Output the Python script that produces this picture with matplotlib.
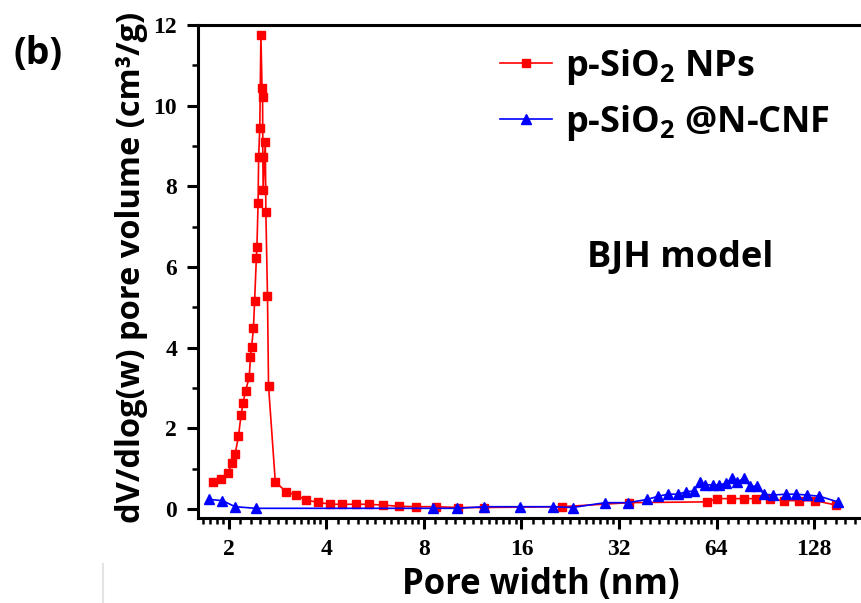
import numpy as np
import matplotlib
matplotlib.use('Agg')
import matplotlib.pyplot as plt
from matplotlib.ticker import FixedLocator, FixedFormatter, NullFormatter
from matplotlib.lines import Line2D

plt.rcParams['mathtext.fontset'] = 'custom'
plt.rcParams['mathtext.rm'] = 'Open Sans:bold'
plt.rcParams['mathtext.bf'] = 'Open Sans:bold'

# Data
w_np = [1.78, 1.89, 1.99, 2.04, 2.09, 2.14, 2.18, 2.21, 2.25, 2.31, 2.33, 2.35, 2.38,
        2.40, 2.43, 2.44, 2.46, 2.47, 2.49, 2.51, 2.53, 2.54, 2.545, 2.55, 2.59, 2.60,
        2.63, 2.65, 2.78, 3.00, 3.22, 3.47, 3.77, 4.10, 4.46, 4.92, 5.40, 5.97, 6.69,
        7.56, 8.71, 10.2, 12.3, 21.3, 34.4, 59.7, 64.4, 70.8, 77.8, 84.7, 93.6, 103.4,
        114.8, 128.9, 149.7]
v_np = [0.68, 0.74, 0.90, 1.15, 1.36, 1.81, 2.33, 2.62, 2.93, 3.27, 3.76, 4.02, 4.48,
        5.15, 6.22, 6.50, 7.58, 8.74, 9.45, 11.75, 10.43, 10.22, 8.74, 7.91, 9.11, 7.37,
        5.29, 3.05, 0.68, 0.43, 0.35, 0.22, 0.17, 0.12, 0.12, 0.12, 0.12, 0.10, 0.07,
        0.06, 0.06, 0.04, 0.04, 0.06, 0.16, 0.18, 0.26, 0.26, 0.26, 0.26, 0.24, 0.21,
        0.21, 0.21, 0.10]

w_cnf = [1.74, 1.91, 2.09, 2.42, 8.55, 10.1, 12.3, 15.8, 20.0, 23.0, 29.0, 34.2, 39.1,
         42.3, 45.4, 48.8, 51.5, 54.5, 56.9, 59.0, 62.6, 65.3, 68.4, 71.3, 74.2, 77.8,
         81.2, 85.5, 89.7, 95.8, 104.9, 112.6, 121.5, 132.9, 151.5]
v_cnf = [0.24, 0.21, 0.06, 0.02, 0.02, 0.02, 0.06, 0.06, 0.06, 0.04, 0.16, 0.16, 0.24,
         0.32, 0.37, 0.37, 0.43, 0.45, 0.68, 0.60, 0.60, 0.60, 0.64, 0.76, 0.68, 0.76,
         0.57, 0.57, 0.37, 0.35, 0.37, 0.37, 0.35, 0.32, 0.18]

x_ticks = [2, 4, 8, 16, 32, 64, 128]
y_ticks = [0, 2, 4, 6, 8, 10, 12]

fig = plt.figure(figsize=(8.62, 6.03), dpi=100)
ax = fig.add_axes([198/862, 1 - 518/603, 1 - 198/862, (518 - 25)/603])

ax.plot(w_np, v_np, color='#ff0000', marker='s', markersize=6, linewidth=1.2,
        label=r'p-SiO$_{\mathbf{2}}$ NPs')
ax.plot(w_cnf, v_cnf, color='#0000ff', marker='^', markersize=7, linewidth=1.2,
        label=r'p-SiO$_{\mathbf{2}}$ @N-CNF')

ax.set_xscale('log', base=2)
ax.set_xlim(1.605, 180)
ax.set_ylim(-0.22, 12)

ax.xaxis.set_major_locator(FixedLocator(x_ticks))
ax.xaxis.set_major_formatter(FixedFormatter([str(t) for t in x_ticks]))
minors = [2.0**n * (1 + k/12) for n in range(0, 8) for k in range(1, 12)]
ax.xaxis.set_minor_locator(FixedLocator(minors))
ax.xaxis.set_minor_formatter(NullFormatter())
ax.yaxis.set_major_locator(FixedLocator(y_ticks))
ax.yaxis.set_minor_locator(FixedLocator([1, 3, 5, 7, 9, 11]))

for s in ['left', 'bottom', 'top']:
    ax.spines[s].set_linewidth(2.2)
ax.spines['right'].set_visible(False)
ax.tick_params(which='major', direction='out', length=8, width=2.2, labelsize=17)
ax.tick_params(axis='x', which='major', pad=7)
ax.tick_params(axis='y', which='major', pad=7)
ax.tick_params(which='minor', direction='out', length=4, width=1.8)
ax.tick_params(top=False, right=False)
for lab in ax.get_xticklabels() + ax.get_yticklabels():
    lab.set_fontfamily('Liberation Serif')
    lab.set_fontweight('bold')

ax.set_xlabel('Pore width (nm)', fontfamily='Open Sans', fontweight='bold', fontsize=25)
ax.xaxis.set_label_coords((541 - 198) / 664, -0.1)
ax.set_ylabel('dV/dlog(w) pore volume (cm³/g)', fontfamily='Open Sans', fontweight='bold',
              fontsize=23.5)
ax.yaxis.set_label_coords(-(198 - 148) / 664, 0.508)

ax.legend(loc='upper left', bbox_to_anchor=(500/862, 1 - 47/603), bbox_transform=fig.transFigure,
          frameon=False, handlelength=1.45, handletextpad=0.35, labelspacing=0.43,
          borderpad=0, borderaxespad=0,
          prop={'family': 'Open Sans', 'weight': 'bold', 'size': 26})

ax.text(680/862, 1 - 258/603, 'BJH model', transform=fig.transFigure, ha='center', va='center',
        fontfamily='Open Sans', fontweight='bold', fontsize=26)
fig.text(38/862, 1 - 54/603, '(b)', ha='center', va='center',
         fontfamily='Open Sans', fontweight='bold', fontsize=27)

# faint crop line at the lower left
fig.add_artist(Line2D([103/862, 103/862], [0, 1 - 564/603], color='#e4e4e4', linewidth=1.5))

fig.savefig('out.png', dpi=100)
